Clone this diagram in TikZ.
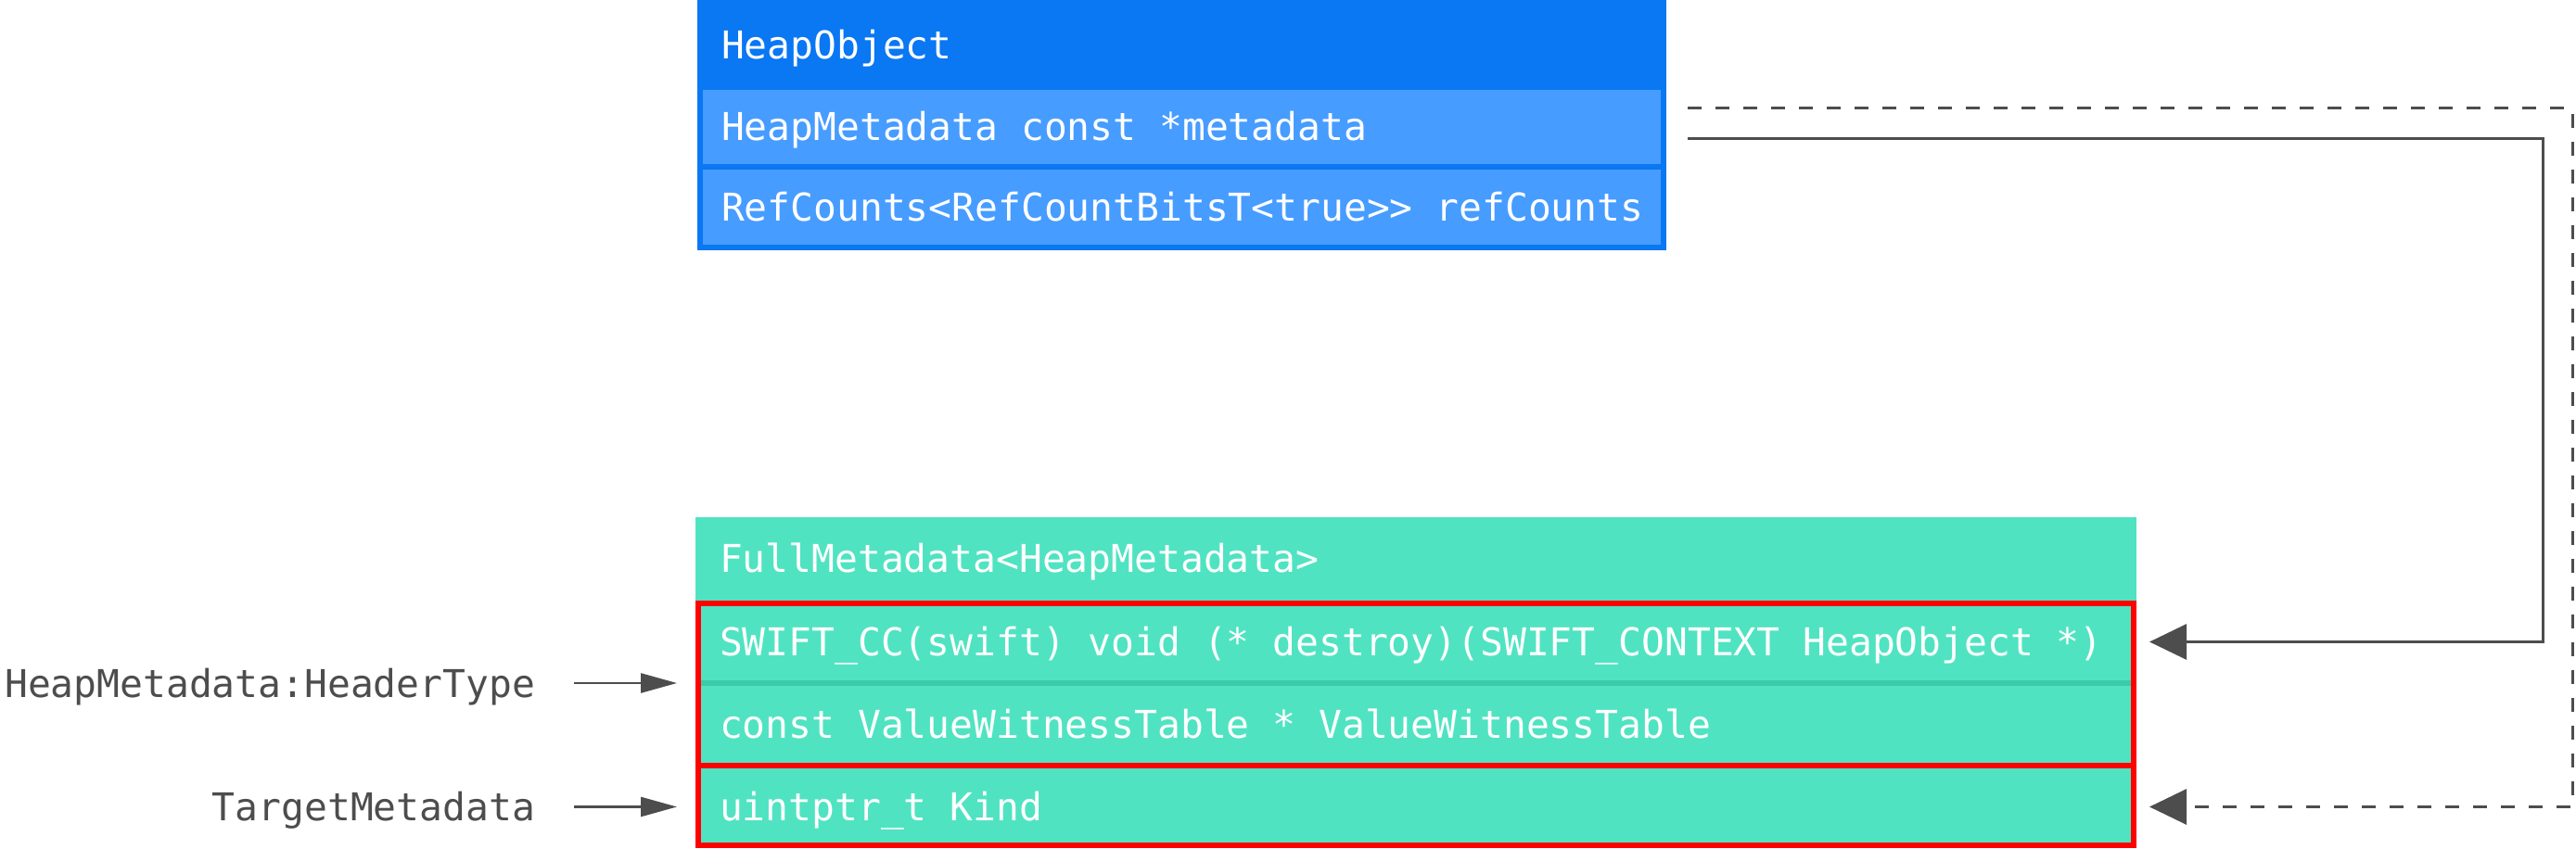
\documentclass[tikz,border=0pt]{standalone}
\usepackage{fontspec}
\usetikzlibrary{positioning,arrows.meta}
\newfontfamily\codefont[WordSpace={1,0,0}]{DejaVu Sans Mono}
\newcommand\codesize{\codefont\fontsize{11.75}{14}\selectfont}
\definecolor{heapdark}{HTML}{0A77F3}
\definecolor{heaplight}{HTML}{479CFF}
\definecolor{metateal}{HTML}{50E3C2}
\definecolor{metatealdark}{HTML}{3CCBA9}
\definecolor{framered}{HTML}{FF0000}
\definecolor{linegray}{HTML}{4D4D4D}
\tikzset{
	cell/.style={rectangle, inner sep=0pt, outer sep=0pt, align=left, text=white,
		font=\codesize, text height=0.30cm, text depth=0cm,
		execute at begin node={\spaceskip=0pt\xspaceskip=0pt\hspace*{#1}}},
	note/.style={inner sep=0pt, outer sep=0pt, text=linegray,
		font=\codesize, text height=0.30cm, text depth=0cm},
	redframe/.style={draw=framered, line width=0.06cm},
	pointer/.style={draw=linegray, line width=0.025cm, -{Triangle[length=0.39cm,width=0.21cm]}},
	link/.style={draw=linegray, line width=0.03cm, -{Triangle[length=0.40cm,width=0.38cm]}}
}
\begin{document}
\begin{tikzpicture}
	\useasboundingbox (0,0) rectangle (27.78,9.15);

	% HeapObject
	\fill[heapdark] (7.52,9.15) rectangle (17.97,6.45);
	\node[cell=0.26cm, fill=heapdark, text width=10.45cm, minimum height=0.97cm] (hdr) at (12.745,8.665) {HeapObject};
	\node[cell=0.20cm, fill=heaplight, text width=10.33cm, minimum height=0.80cm, below=0cm of hdr] (meta) {HeapMetadata const *metadata};
	\node[cell=0.20cm, fill=heaplight, text width=10.33cm, minimum height=0.81cm, below=0.06cm of meta] (refc) {RefCounts<RefCountBitsT<true>> refCounts};

	% FullMetadata
	\node[cell=0.26cm, fill=metateal, text width=15.54cm, minimum height=0.90cm] (fullmd) at (15.27,3.12) {FullMetadata<HeapMetadata>};
	\node[cell=0.26cm, fill=metateal, text width=15.54cm, minimum height=0.89cm, below=0cm of fullmd] (destroy) {SWIFT\_CC(swift) void (* destroy)(SWIFT\_CONTEXT HeapObject *)};
	\node[cell=0.26cm, fill=metateal, text width=15.54cm, minimum height=0.89cm, below=0cm of destroy] (vwt) {const ValueWitnessTable * ValueWitnessTable};
	\node[cell=0.26cm, fill=metateal, text width=15.54cm, minimum height=0.89cm, below=0cm of vwt] (kind) {uintptr\_t Kind};
	\draw[metatealdark, line width=0.06cm] (vwt.north west) -- (vwt.north east);

	% red groups
	\draw[redframe] ([shift={(0.03,-0.03)}]destroy.north west) rectangle ([xshift=-0.03cm]vwt.south east);
	\draw[redframe] ([xshift=0.03cm]kind.north west) rectangle ([shift={(-0.03,0.03)}]kind.south east);

	% labels
	\node[note, anchor=east] (hdrtype) at ([xshift=-1.73cm]destroy.south west) {HeapMetadata:HeaderType};
	\node[note, anchor=east] (target) at ([xshift=-1.73cm]kind.west) {TargetMetadata};
	\draw[pointer] ([xshift=0.42cm]hdrtype.east) -- ([xshift=-0.20cm]destroy.south west);
	\draw[pointer] ([xshift=0.42cm]target.east) -- ([xshift=-0.20cm]kind.west);

	% metadata pointer
	\coordinate (metaout) at ([shift={(0.29,-0.13)}]meta.east);
	\coordinate (metaptr) at ([shift={(0.29,0.20)}]meta.east);
	\draw[link] (metaout) -- ++(9.22,0) |- ([xshift=0.14cm]destroy.east);
	\draw[link, dash pattern=on 0.15cm off 0.15cm] (metaptr) -- ++(9.54,0) |- ([xshift=0.14cm]kind.east);

\end{tikzpicture}
\end{document}
